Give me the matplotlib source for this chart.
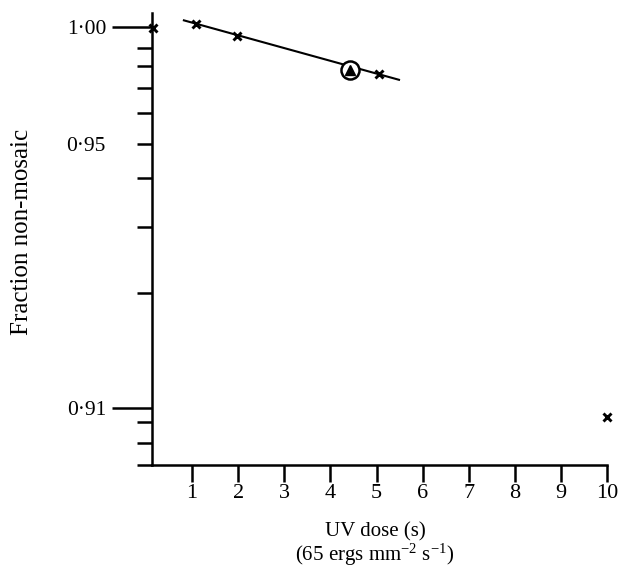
import numpy as np
import matplotlib
matplotlib.use("Agg")
import matplotlib.pyplot as plt

plt.rcParams['font.family'] = ['Liberation Serif', 'DejaVu Serif']
plt.rcParams['mathtext.fontset'] = 'custom'
plt.rcParams['mathtext.rm'] = 'Liberation Serif'
plt.rcParams['mathtext.it'] = 'Liberation Serif:italic'

# ---- data ----
dose_x = [0.15, 1.08, 1.97, 5.05, 10.0]
frac_x = [0.9995, 1.0014, 0.9957, 0.9764, 0.9036]
dose_circle = [4.43]
frac_circle = [0.9782]
fit_dose = [0.8, 5.51]
fit_frac = [1.0033, 0.9736]

x_ticks = [1, 2, 3, 4, 5, 6, 7, 8, 9, 10]
y_major = [1.00, 0.91]
y_major_labels = ['1·00', '0·91']
y_minor = [0.99, 0.98, 0.97, 0.96, 0.95, 0.94, 0.93, 0.92, 0.90, 0.89, 0.88]
y_minor_labels = ['', '', '', '', '0·95', '', '', '', '', '', '']

# ---- hand-drawn (non-uniform) ordinate scale: value -> relative position ----
scale_vals = np.array([0.88, 0.89, 0.90, 0.91, 0.92, 0.93, 0.94, 0.95, 0.96,
                       0.97, 0.98, 0.99, 1.00, 1.02])
scale_pos = -np.array([465, 443, 422, 408, 293, 227, 178, 144, 113,
                       88, 66, 48, 27, -15], dtype=float)

def fwd(v):
    return np.interp(v, scale_vals, scale_pos)

def inv(t):
    return np.interp(t, scale_pos, scale_vals)

W, H = 624, 568
fig = plt.figure(figsize=(W / 100, H / 100), dpi=100)
ax = fig.add_axes([152 / W, (H - 465) / H, 455 / W, 452 / H])
ax.set_yscale('function', functions=(fwd, inv))
ax.set_xlim(0.13, 10.0)
ax.set_ylim(0.88, inv(-13.0))

for s in ['top', 'right']:
    ax.spines[s].set_visible(False)
for s in ['left', 'bottom']:
    ax.spines[s].set_linewidth(1.8)
    ax.spines[s].set_color('black')

ax.set_xticks(x_ticks)
ax.set_xticklabels([str(t) for t in x_ticks], fontsize=16)
ax.tick_params(axis='x', direction='out', length=12.5, width=1.8, pad=1.0)

ax.set_yticks(y_major)
ax.set_yticklabels(y_major_labels, fontsize=15.5)
ax.set_yticks(y_minor, minor=True)
ax.set_yticklabels(y_minor_labels, minor=True, fontsize=15.5)
ax.tick_params(axis='y', which='major', direction='out', length=28.5, width=1.8, pad=4)
ax.tick_params(axis='y', which='minor', direction='out', length=11, width=1.8, pad=22.5)

ax.plot(fit_dose, fit_frac, color='black', lw=1.5, solid_capstyle='butt')
ax.plot(dose_x, frac_x, linestyle='none', marker='x', color='black',
        markersize=6, mew=2.1, clip_on=False)
ax.plot(dose_circle, frac_circle, linestyle='none', marker='o', mfc='white',
        mec='black', markersize=13, mew=1.8, clip_on=False)
ax.plot(dose_circle, frac_circle, linestyle='none', marker='^', color='black',
        markersize=6.5, clip_on=False)

ax.set_xlabel('UV dose (s)\n(65 ergs mm$^{-2}$ s$^{-1}$)', fontsize=15,
              linespacing=1.05)
ax.xaxis.set_label_coords((375 - 152) / 455, -(545 - 465) / 452)
ax.xaxis.label.set_va('center')
ax.set_ylabel('Fraction non-mosaic', fontsize=18)
ax.yaxis.set_label_coords((22 - 152) / 455, (465 - 232) / 452)
ax.yaxis.label.set_va('center')

fig.savefig('out.png', dpi=100)
